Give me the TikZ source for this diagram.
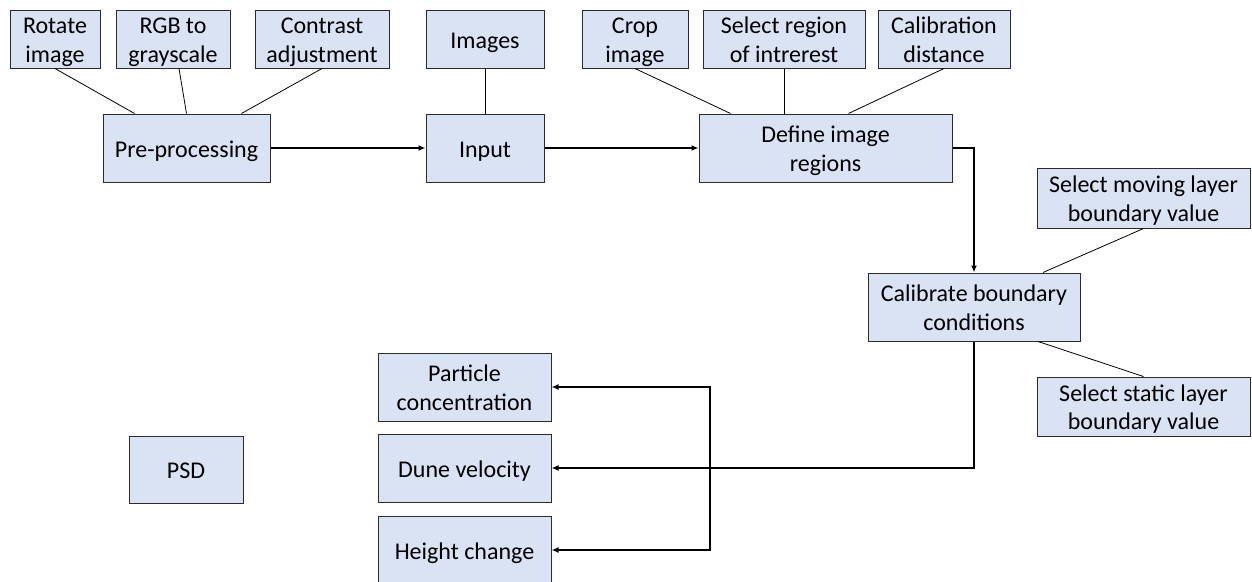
\documentclass[tikz,border=0pt]{standalone}
\usepackage{fontspec}
\setmainfont{Carlito}
\usepackage{xcolor}
\usetikzlibrary{arrows.meta,positioning}

\definecolor{boxfill}{HTML}{DAE3F3}
\definecolor{boxline}{HTML}{2B2B2B}

% text block for the boxes, lines centred, sits a little low
\newcommand{\boxtext}[1]{\raisebox{-3.5pt}[\height][\depth]{\begin{tabular}{@{}c@{}}#1\end{tabular}}}

\begin{document}
\begin{tikzpicture}[
    x=1pt, y=-1pt,
    font=\fontsize{24}{28.5}\selectfont,
    box/.style={draw=boxline, line width=1pt, fill=boxfill, inner sep=0pt},
    link/.style={line width=0.8pt},
    arr/.style={-{Latex[length=7pt,width=6pt]}, line width=1.5pt}
]
\useasboundingbox (0,0) rectangle (1252,581);

% top row
\node[box, minimum width=90pt, minimum height=58pt] (rot) at (55,39) {\boxtext{Rotate\\image}};
\node[box, minimum width=114pt, minimum height=58pt] (rgb) at (173,39) {\boxtext{RGB to\\grayscale}};
\node[box, minimum width=134pt, minimum height=58pt] (con) at (322,39) {\boxtext{Contrast\\adjustment}};
\node[box, minimum width=118pt, minimum height=58pt] (img) at (485,39) {\boxtext{Images}};
\node[box, minimum width=106pt, minimum height=58pt] (crop) at (635,39) {\boxtext{Crop\\image}};
\node[box, minimum width=162pt, minimum height=58pt] (sel) at (784,39) {\boxtext{Select region\\of intrerest}};
\node[box, minimum width=132pt, minimum height=58pt] (cal) at (944,39) {\boxtext{Calibration\\distance}};

% main steps
\node[box, minimum width=167pt, minimum height=68pt] (pre) at (186.5,148) {\boxtext{Pre-processing}};
\node[box, minimum width=118pt, minimum height=68pt] (inp) at (485,148) {\boxtext{Input}};
\node[box, minimum width=253pt, minimum height=68pt] (def) at (825.5,148) {\boxtext{Define image\\regions}};
\node[box, minimum width=212pt, minimum height=68pt] (calib) at (974,307) {\boxtext{Calibrate boundary\\conditions}};
\node[box, minimum width=213pt, minimum height=60pt] (mov) at (1143.5,198) {\boxtext{Select moving layer\\boundary value}};
\node[box, minimum width=213pt, minimum height=59pt] (stat) at (1143.5,406.5) {\boxtext{Select static layer\\boundary value}};

% outputs
\node[box, minimum width=173pt, minimum height=68pt] (part) at (464.5,387) {\boxtext{Particle\\concentration}};
\node[box, minimum width=173pt, minimum height=68pt] (dune) at (464.5,468) {\boxtext{Dune velocity}};
\node[box, minimum width=173pt, minimum height=68pt] (height) at (464.5,550) {\boxtext{Height change}};
\node[box, minimum width=114pt, minimum height=67pt] (psd) at (186,469.5) {\boxtext{PSD}};

% sub-step links
\draw[link] (rot.south) -- ([xshift=-52pt]pre.north);
\draw[link] ([xshift=6pt]rgb.south) -- (pre.north);
\draw[link] (con.south) -- ([xshift=55pt]pre.north);
\draw[link] (img.south) -- (inp.north);
\draw[link] (crop.south) -- ([xshift=-95pt]def.north);
\draw[link] (sel.south) -- (sel.south |- def.north);
\draw[link] (cal.south) -- ([xshift=23pt]def.north);
\draw[link] (mov.south) -- ([xshift=69pt]calib.north);
\draw[link] ([xshift=64pt]calib.south) -- (stat.north);

% flow
\draw[arr] (pre.east) -- (inp.west);
\draw[arr] (inp.east) -- (def.west);
\draw[arr] (def.east) -| (calib.north);
\draw[arr] (calib.south) |- (dune.east);
\coordinate (split) at (710,468);
\draw[arr] (split) |- (part.east);
\draw[arr] (split) |- (height.east);
\end{tikzpicture}
\end{document}
